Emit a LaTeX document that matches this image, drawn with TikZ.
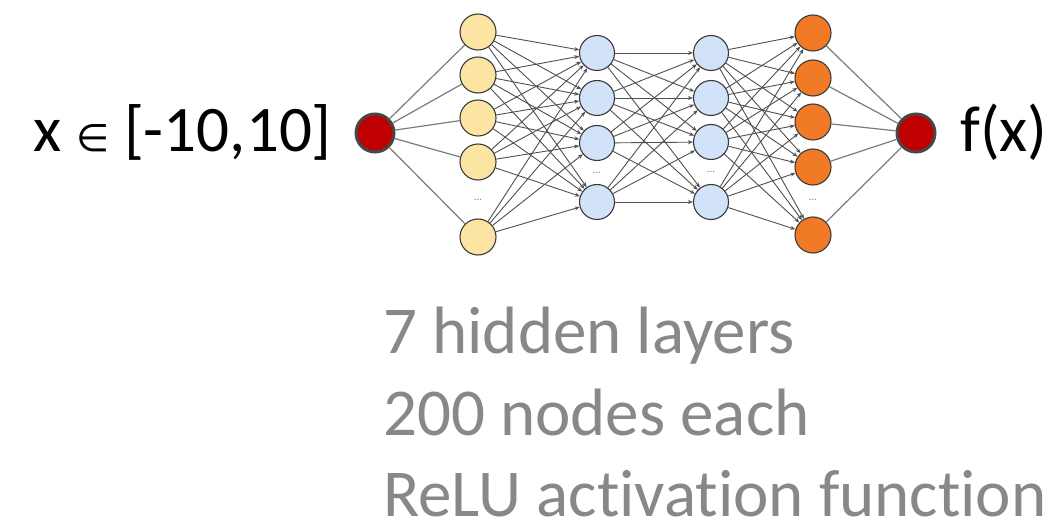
\documentclass[tikz,border=0pt]{standalone}
\usepackage{fontspec}
\setmainfont{Carlito}[Ligatures=NoCommon]
\newfontfamily\symfont{DejaVu Sans}
\usetikzlibrary{arrows.meta}
\definecolor{neuronedge}{HTML}{3A3A3A}
\definecolor{inyellow}{HTML}{FCE5A2}
\definecolor{hidblue}{HTML}{D2E2F8}
\definecolor{outorange}{HTML}{F07A26}
\definecolor{ioRed}{HTML}{C00000}
\definecolor{ioRim}{HTML}{474747}
\definecolor{wire}{HTML}{505050}
\definecolor{lightwire}{HTML}{7C7C7C}
\definecolor{notegray}{HTML}{888888}
\tikzset{
  neuron/.style={circle, draw=neuronedge, line width=1.1pt, minimum size=36pt, inner sep=0pt},
  ionode/.style={circle, draw=ioRim, fill=ioRed, line width=3pt, minimum size=38pt, inner sep=0pt},
  wirearrow/.style={draw=wire, line width=0.9pt, -{Stealth[length=5pt,width=4pt]}},
  fanwire/.style={draw=lightwire, line width=1.2pt},
  dotsmark/.style={text=notegray, font=\fontsize{11}{11}\selectfont, inner sep=0pt},
  bigtext/.style={font=\fontsize{65}{80}\selectfont, inner sep=0pt},
  notetext/.style={font=\fontsize{67}{80}\selectfont, text=notegray, inner sep=0pt, anchor=base west}
}
\begin{document}
\begin{tikzpicture}[x=1pt, y=-1pt]
\useasboundingbox (0,0) rectangle (1059,521);
\fill[white] (0,0) rectangle (1059,521);

% input and output units
\node[ionode] (in) at (375,133) {};
\node[ionode] (out) at (916,133) {};

% layer of input neurons (yellow)
\foreach \i/\y in {1/32, 2/75, 3/118, 4/162, 5/237}
  \node[neuron, fill=inyellow] (a\i) at (478,\y) {};
% first hidden layer (blue)
\foreach \i/\y in {1/53, 2/98, 3/143, 4/202}
  \node[neuron, fill=hidblue, minimum size=35pt] (b\i) at (597,\y) {};
% second hidden layer (blue)
\foreach \i/\y in {1/53, 2/98, 3/142, 4/202}
  \node[neuron, fill=hidblue, minimum size=35pt] (c\i) at (711,\y) {};
% output neurons (orange)
\foreach \i/\y in {1/33, 2/78, 3/122, 4/167, 5/235}
  \node[neuron, fill=outorange] (d\i) at (813,\y) {};

% ellipses for omitted neurons
\node[dotsmark] (adots) at (478,200) {...};
\node[dotsmark] (bdots) at (597,173) {...};
\node[dotsmark] (cdots) at (711,172) {...};
\node[dotsmark] (ddots) at (813,200) {...};

% connections
\foreach \i in {1,...,5} \draw[fanwire] (in) -- (a\i);
\foreach \i in {1,...,5} \draw[fanwire] (d\i) -- (out);
\foreach \i in {1,...,5} \foreach \j in {1,...,4} \draw[wirearrow] (a\i) -- (b\j);
\foreach \i in {1,...,4} \foreach \j in {1,...,4} \draw[wirearrow] (b\i) -- (c\j);
\foreach \i in {1,...,4} \foreach \j in {1,...,5} \draw[wirearrow] (c\i) -- (d\j);

% labels
\node[bigtext, anchor=base east] (xlabel) at (332,152) {x {\symfont\fontsize{38}{38}\selectfont ∈} [-10,10]};
\node[bigtext, anchor=base west] (flabel) at (960,152) {f(x)};

\node[notetext] (note1) at (383,353) {7 hidden layers};
\node[notetext] (note2) at (383,435) {200 nodes each};
\node[notetext] (note3) at (383,516) {ReLU activation function};
\end{tikzpicture}
\end{document}
